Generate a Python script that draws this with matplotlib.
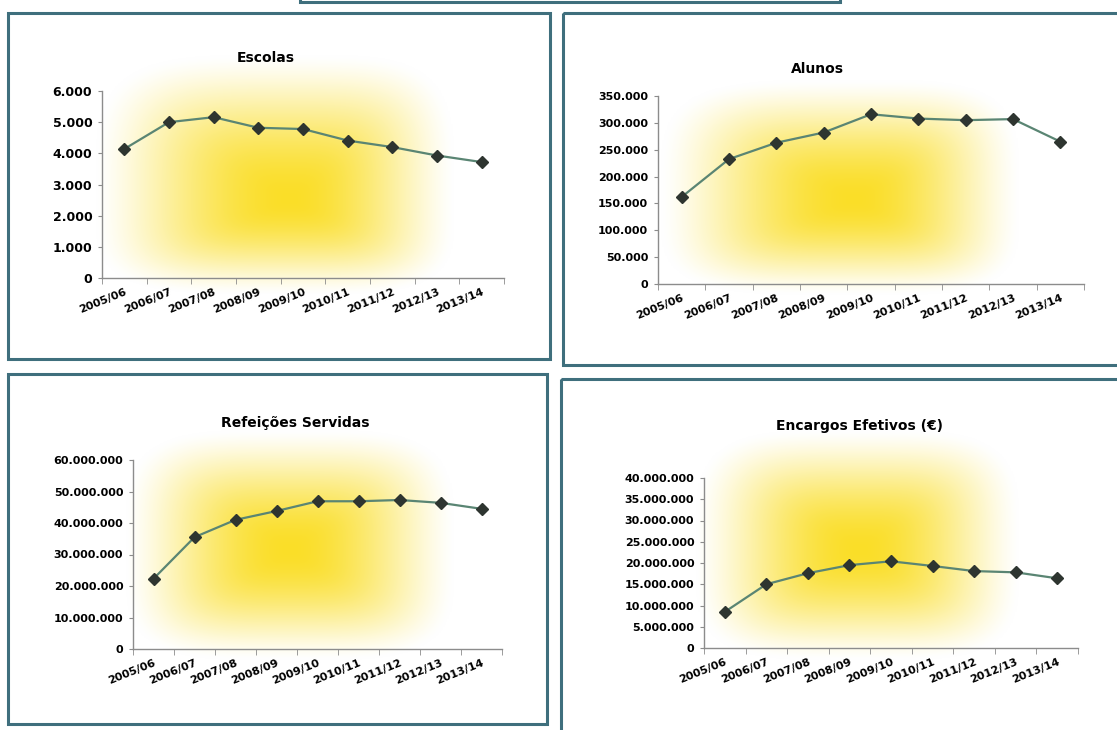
import numpy as np
import matplotlib
matplotlib.use('Agg')
import matplotlib.pyplot as plt
from matplotlib.patches import Rectangle
from matplotlib.ticker import FuncFormatter, MultipleLocator, FixedLocator

anos = ['2005/06', '2006/07', '2007/08', '2008/09', '2009/10',
        '2010/11', '2011/12', '2012/13', '2013/14']
escolas = [4140, 5000, 5160, 4820, 4780, 4410, 4200, 3930, 3720]
alunos = [162000, 232500, 263000, 282000, 316000, 308000, 305000, 307000, 265000]
refeicoes = [22300000, 35500000, 41000000, 43800000, 46900000,
             46900000, 47300000, 46400000, 44500000]
encargos = [8500000, 15000000, 17600000, 19500000, 20400000,
            19300000, 18100000, 17800000, 16400000]

W, H = 1117, 730
fig = plt.figure(figsize=(W / 100, H / 100), dpi=100)

# background layer in pixel coordinates (frames + yellow gradients)
bg = fig.add_axes([0, 0, 1, 1])
bg.set_xlim(0, W)
bg.set_ylim(H, 0)
bg.axis('off')

frame_col = '#3f6f7d'
for (x0, y0, x1, y1) in [(300, -20, 840, 2), (8, 13, 550, 359), (563, 13, 1130, 365),
                         (8, 374, 547, 724), (561, 379, 1130, 745)]:
    bg.add_patch(Rectangle((x0, y0), x1 - x0, y1 - y0, fill=False,
                           edgecolor=frame_col, lw=2.2, zorder=2))

yellow = np.array([250, 222, 40]) / 255.0


def gradient(x0, x1, y0, y1, cx, cy):
    xs = np.linspace(x0, x1, 240)
    ys = np.linspace(y0, y1, 240)
    X, Y = np.meshgrid(xs, ys)
    u = np.where(X < cx, (cx - X) / (cx - x0), (X - cx) / (x1 - cx))
    v = np.where(Y < cy, (cy - Y) / (cy - y0), (Y - cy) / (y1 - cy))
    d = (u ** 4 + v ** 4) ** 0.25
    t = np.clip(1 - d, 0, 1)
    i = t * t * (3 - 2 * t)
    i = i ** 0.7
    img = 1 - i[..., None] * (1 - yellow)
    bg.imshow(img, extent=(x0, x1, y1, y0), origin='upper', aspect='auto',
              interpolation='bilinear', zorder=0)


gradient(95, 455, 55, 295, 290, 200)
gradient(660, 1020, 80, 295, 855, 200)
gradient(125, 455, 430, 660, 290, 550)
gradient(695, 1020, 430, 660, 860, 550)
bg.set_xlim(0, W)
bg.set_ylim(H, 0)


def fmt(v, pos):
    return f'{int(round(v)):,}'.replace(',', '.')


def painel(box, valores, ymax, passo, titulo, title_xy, ysize=8):
    x0, y0, x1, y1 = box
    ax = fig.add_axes([x0 / W, 1 - y1 / H, (x1 - x0) / W, (y1 - y0) / H])
    ax.set_facecolor('none')
    ax.plot(range(len(anos)), valores, color='#5a8573', lw=1.6, marker='D',
            ms=6, mfc='#2e3530', mec='#2e3530', zorder=3)
    ax.set_xlim(-0.5, len(anos) - 0.5)
    ax.set_ylim(0, ymax)
    ax.yaxis.set_major_locator(MultipleLocator(passo))
    ax.yaxis.set_major_formatter(FuncFormatter(fmt))
    ax.set_xticks(range(len(anos)))
    ax.set_xticklabels(anos, rotation=22, ha='right', va='top',
                       rotation_mode='anchor', fontsize=8, fontweight='bold')
    ax.xaxis.set_minor_locator(FixedLocator(np.arange(-0.5, len(anos), 1)))
    ax.tick_params(axis='x', which='major', length=0, pad=6)
    ax.tick_params(axis='x', which='minor', length=4, color='#8c8c8c', direction='out')
    ax.tick_params(axis='y', length=3, color='#8c8c8c', labelsize=ysize, pad=4)
    for lab in ax.get_yticklabels():
        lab.set_fontweight('bold')
    for s in ['top', 'right']:
        ax.spines[s].set_visible(False)
    for s in ['left', 'bottom']:
        ax.spines[s].set_color('#8c8c8c')
        ax.spines[s].set_linewidth(1)
    fig.text(title_xy[0] / W, 1 - title_xy[1] / H, titulo, ha='center', va='center',
             fontsize=10, fontweight='bold')
    return ax


painel((102, 91, 504, 278), escolas, 6000, 1000, 'Escolas', (266, 58), ysize=9)
painel((658, 96, 1084, 284), alunos, 350000, 50000, 'Alunos', (817, 69))
painel((133, 460, 502, 649), refeicoes, 60000000, 10000000, 'Refeições Servidas', (295, 423))
painel((704, 478, 1078, 648), encargos, 40000000, 5000000, 'Encargos Efetivos (€)', (860, 426))

plt.savefig('out.png', dpi=100)
